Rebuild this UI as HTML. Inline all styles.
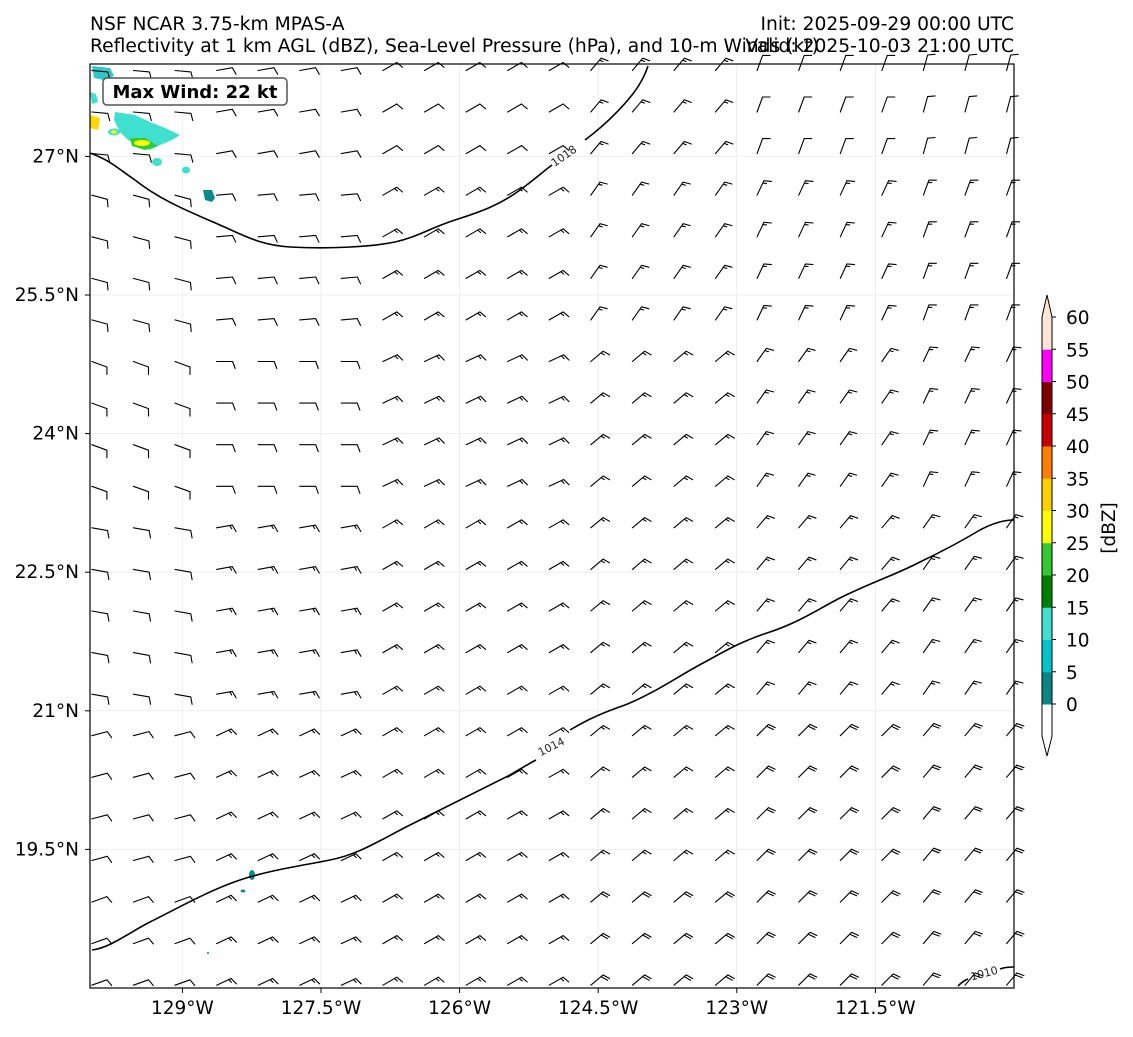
<!DOCTYPE html>
<html><head><meta charset="utf-8"><style>
body{margin:0;background:#fff;font-family:"Liberation Sans","DejaVu Sans",sans-serif;}
svg text{font-family:"DejaVu Sans","Liberation Sans",sans-serif;}
</style></head><body>
<svg id="chart" width="1133" height="1032" viewBox="0 0 1133 1032" xmlns="http://www.w3.org/2000/svg">
<rect width="1133" height="1032" fill="#fff"/>
<text x="90" y="30" font-size="18.7">NSF NCAR 3.75-km MPAS-A</text>
<text x="90" y="52" font-size="18.7">Reflectivity at 1 km AGL (dBZ), Sea-Level Pressure (hPa), and 10-m Winds (kt)</text>
<text x="1014" y="30" font-size="18.7" text-anchor="end">Init: 2025-09-29 00:00 UTC</text>
<text x="1014" y="52" font-size="18.7" text-anchor="end">Valid: 2025-10-03 21:00 UTC</text>
<g id="grid"></g>
<g id="refl">
 <path d="M92,66 L110,68 L114,76 L104,80 L94,78 Z" fill="#2ec8c8"/>
 <path d="M90,92 L96,94 L98,102 L92,104 Z" fill="#40e0d0"/>
 <path d="M90,115 L100,118 L98,130 L90,128 Z" fill="#ffd700"/>
 <path d="M115,112 L135,115 L150,122 L165,128 L180,135 L172,140 L160,145 L150,150 L138,146 L128,140 L120,132 L114,120 Z" fill="#40e0d0"/>
 <path d="M130,138 L145,138 L158,146 L145,150 L132,146 Z" fill="#32cd32"/>
 <ellipse cx="142" cy="143" rx="8" ry="3" fill="#ffff00"/>
 <ellipse cx="114" cy="132" rx="6" ry="3.5" fill="#40e0d0"/>
 <ellipse cx="114" cy="132" rx="3" ry="1.8" fill="#ffff00"/>
 <ellipse cx="157" cy="162" rx="5" ry="4" fill="#40e0d0"/>
 <ellipse cx="186" cy="170" rx="4" ry="3.5" fill="#40e0d0"/>
 <path d="M203,190 L212,190 L215,198 L212,202 L205,200 Z" fill="#0a8a8a"/>
 <ellipse cx="252" cy="875" rx="3" ry="5" fill="#0a8a8a"/>
 <ellipse cx="243" cy="891" rx="2.5" ry="1.5" fill="#0a8a8a"/>
 <circle cx="208" cy="953" r="1" fill="#0a8a8a"/>
</g>
<g id="barbs" stroke="#000" stroke-width="1.1" fill="none" stroke-linecap="round"></g>
<g fill="none" stroke="#000" stroke-width="1.6">
 <path d="M90,153 C110,160 120,170 135,180 C160,200 190,212 220,225 C245,236 260,245 290,247 C330,249 370,247 395,242 C420,236 430,228 455,220 C480,212 500,205 520,190 C535,179 545,170 552,165"/>
 <path d="M585,140 C605,125 620,110 632,95 C640,85 645,75 648,66"/>
 <path d="M92,950 C110,948 130,932 150,922 C180,907 210,890 240,880 C270,870 300,866 330,860 C360,854 380,840 410,825 C450,805 480,790 510,775 C522,768 530,763 536,760"/>
 <path d="M570,730 C590,718 605,712 625,705 C655,693 680,675 705,662 C730,648 745,640 770,632 C800,622 820,608 840,598 C870,583 895,575 920,562 C945,550 960,542 980,530 C995,522 1005,520 1014,520"/>
 <path d="M958,986 C962,982 965,980 968,979 M1000,969 C1005,967 1010,967 1014,967"/>
</g>
<text transform="translate(566,159) rotate(-35)" font-size="11" text-anchor="middle" fill="#222">1018</text>
<text transform="translate(553,750) rotate(-27)" font-size="11" text-anchor="middle" fill="#222">1014</text>
<text transform="translate(985,977) rotate(-15)" font-size="11" text-anchor="middle" fill="#222">1010</text>
<rect x="90" y="64" width="924" height="924" fill="none" stroke="#000" stroke-width="1.2"/>
<g>
 <rect x="103" y="78" width="184" height="27" rx="4" fill="#fff" fill-opacity="0.9" stroke="#555" stroke-width="1.5"/>
 <text x="195" y="98" font-size="18" font-weight="bold" text-anchor="middle">Max Wind: 22 kt</text>
</g>
<g id="ticks"></g>
<g id="cbar"></g>
<text transform="translate(1115,528) rotate(-90)" font-size="18.5" text-anchor="middle">[dBZ]</text>
</svg>
<script>
const lonTicks=[-129,-127.5,-126,-124.5,-123,-121.5];
const latTicks=[27,25.5,24,22.5,21,19.5];
const cbLevels=[0,5,10,15,20,25,30,35,40,45,50,55,60];
const cbColors=["#0a8585","#00c3cd","#40dfd0","#008000","#32c832","#ffff00","#ffd000","#ff8000","#c80000","#800000","#ff00ff","#ffe4d8"];
// coarse wind field: rows = latitudes, cols = longitudes
const windLats=[28,26,24,22,20,18];
const windLons=[-130,-128,-126,-124,-122,-120];
const windDir=[
 [95,80,60,40,20,15],
 [105,85,60,35,25,20],
 [110,90,65,50,35,25],
 [100,80,60,50,40,35],
 [75,65,60,50,45,40],
 [70,65,60,50,45,40]];
const windSpd=[
 [10,10,10,15,10,12],
 [10,10,15,15,15,15],
 [10,10,15,15,15,15],
 [10,15,15,15,15,15],
 [10,15,15,15,20,20],
 [10,15,15,20,20,20]];
const NS="http://www.w3.org/2000/svg";
const x0=90,x1=1014,y0=64,y1=988,lonMin=-130,lonMax=-120,latMin=18,latMax=28;
const X=lon=>x0+(lon-lonMin)/(lonMax-lonMin)*(x1-x0);
const Y=lat=>y1-(lat-latMin)/(latMax-latMin)*(y1-y0);
function mk(tag,attrs,parent){const e=document.createElementNS(NS,tag);for(const k in attrs)e.setAttribute(k,attrs[k]);parent.appendChild(e);return e;}
const grid=document.getElementById('grid'),ticks=document.getElementById('ticks');
lonTicks.forEach(l=>{
 const g=mk('line',{x1:X(l),x2:X(l),y1:y0,y2:y1,stroke:'#eee','stroke-width':1},grid);
 
 
 const t=mk('line',{x1:X(l),x2:X(l),y1:y1,y2:y1+5,stroke:'#000'},ticks);
 
 
 const tx=mk('text',{x:X(l),y:y1+26,'font-size':18.5,'text-anchor':'middle'},ticks);
 tx.textContent=Math.abs(l)+'°W';
 
 
});
latTicks.forEach(l=>{
 const g=mk('line',{x1:x0,x2:x1,y1:Y(l),y2:Y(l),stroke:'#eee','stroke-width':1},grid);
 
 
 const t=mk('line',{x1:x0-5,x2:x0,y1:Y(l),y2:Y(l),stroke:'#000'},ticks);
 
 
 const tx=mk('text',{x:x0-11,y:Y(l)+6,'font-size':18.5,'text-anchor':'end'},ticks);
 tx.textContent=l+'°N';
 
 
});
// wind barbs
const barbs=document.getElementById('barbs');
function nearest(arr,v){let bi=0,bd=1e9;arr.forEach((a,i)=>{const d=Math.abs(a-v);if(d<bd){bd=d;bi=i;}});return bi;}
const step=0.45,L=16,FB=7.5,R=70*Math.PI/180;
for(let r=0;r<23;r++){for(let c=0;c<23;c++){
 const lon=lonMin+0.02+c*step, lat=latMin+0.03+r*step;
 const px=X(lon),py=Y(lat);
 const ri=nearest(windLats,lat),ci=nearest(windLons,lon);
 const b=windDir[ri][ci]*Math.PI/180,s=windSpd[ri][ci];
 const dx=Math.sin(b),dy=-Math.cos(b);
 const tx=px+L*dx,ty=py+L*dy;
 const a=Math.atan2(dy,dx)+R;const bx=Math.cos(a),by=Math.sin(a);
 let d=`M${px.toFixed(1)},${py.toFixed(1)}L${tx.toFixed(1)},${ty.toFixed(1)}`;
 let full=Math.floor(s/10),half=(s%10)>=5?1:0,off=0;
 for(let i=0;i<full;i++){const sx=tx-off*dx,sy=ty-off*dy;d+=`M${sx.toFixed(1)},${sy.toFixed(1)}l${(FB*bx).toFixed(1)},${(FB*by).toFixed(1)}`;off+=2.6;}
 if(half){const sx=tx-off*dx,sy=ty-off*dy;d+=`M${sx.toFixed(1)},${sy.toFixed(1)}l${(FB*0.5*bx).toFixed(1)},${(FB*0.5*by).toFixed(1)}`;}
 const p=mk('path',{d:d},barbs);
 
 
}}
// colorbar
const cb=document.getElementById('cbar');
const cx0=1042,cx1=1052,cbY=v=>704-v/5*32.25;
const bw=mk('path',{d:`M${cx0},${cbY(0)}L${cx0},${cbY(-5)}L${(cx0+cx1)/2},756L${cx1},${cbY(-5)}L${cx1},${cbY(0)}Z`,fill:'#fff'},cb);


for(let i=0;i<cbColors.length;i++){
 const r=mk('rect',{x:cx0,y:cbY(cbLevels[i+1]),width:cx1-cx0,height:cbY(cbLevels[i])-cbY(cbLevels[i+1])+0.5,fill:cbColors[i]},cb);
 
 
}
const cbTop=mk('path',{d:`M${cx0},${cbY(60)}L${(cx0+cx1)/2},295L${cx1},${cbY(60)}Z`,fill:cbColors[cbColors.length-1]},cb);


const ol=mk('path',{d:`M${cx0},${cbY(-5)}L${cx0},${cbY(60)}L${(cx0+cx1)/2},295L${cx1},${cbY(60)}L${cx1},${cbY(-5)}L${(cx0+cx1)/2},756Z`,fill:'none',stroke:'#000','stroke-width':1},cb);


cbLevels.forEach(v=>{
 const t=mk('line',{x1:cx1,x2:cx1+4,y1:cbY(v),y2:cbY(v),stroke:'#000'},cb);
 
 
 const tx=mk('text',{x:cx1+14,y:cbY(v)+7,'font-size':18.5},cb);
 tx.textContent=v;
 
 
});
</script>
</body></html>
